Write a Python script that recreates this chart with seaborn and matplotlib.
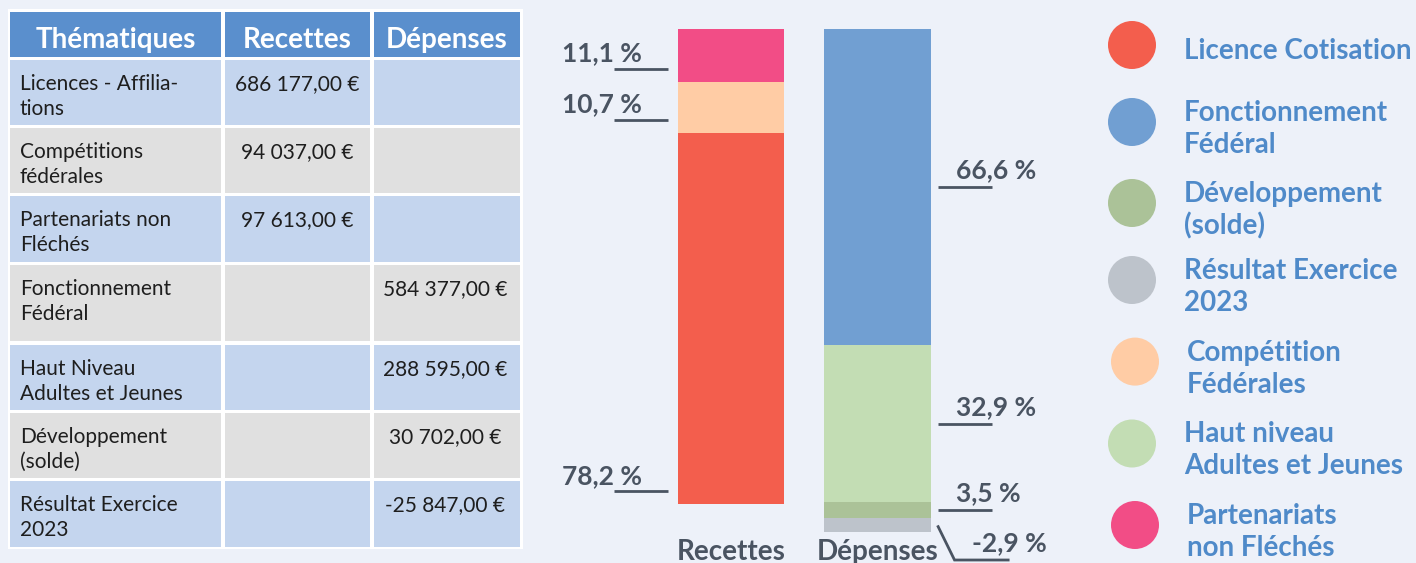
import numpy as np
import pandas as pd
import matplotlib
matplotlib.use("Agg")
import matplotlib.pyplot as plt
from matplotlib.patches import Rectangle, Circle
import seaborn as sns

# ---------------- data ----------------
table_headers = ["Thématiques", "Recettes", "Dépenses"]
themes = ["Licences - Affilia-\ntions", "Compétitions\nfédérales", "Partenariats non\nFléchés",
          "Fonctionnement\nFédéral", "Haut Niveau\nAdultes et Jeunes", "Développement\n(solde)",
          "Résultat Exercice\n2023"]
recettes_amounts = [686177.0, 94037.0, 97613.0, None, None, None, None]
depenses_amounts = [None, None, None, 584377.0, 288595.0, 30702.0, -25847.0]

bar_categories = ["Recettes", "Dépenses"]
# stack layers, listed from top of the bar to bottom
rec_layers = ["Partenariats non Fléchés", "Compétition Fédérales", "Licence Cotisation"]
rec_values = [97613.0, 94037.0, 686177.0]
dep_layers = ["Fonctionnement Fédéral", "Haut niveau Adultes et Jeunes", "Développement (solde)",
              "Résultat Exercice 2023"]
dep_values = [584377.0, 288595.0, 30702.0, -25847.0]

legend_names = ["Licence Cotisation", "Fonctionnement Fédéral", "Développement (solde)",
                "Résultat Exercice 2023", "Compétition Fédérales",
                "Haut niveau Adultes et Jeunes", "Partenariats non Fléchés"]
legend_texts = ["Licence Cotisation", "Fonctionnement\nFédéral", "Développement\n(solde)",
                "Résultat Exercice\n2023", "Compétition\nFédérales", "Haut niveau\nAdultes et Jeunes",
                "Partenariats\nnon Fléchés"]

layer_colors = {
    "Licence Cotisation": "#F35E4D",
    "Fonctionnement Fédéral": "#719FD2",
    "Développement (solde)": "#ABC298",
    "Résultat Exercice 2023": "#BDC3CB",
    "Compétition Fédérales": "#FFCCA5",
    "Haut niveau Adultes et Jeunes": "#C3DDB4",
    "Partenariats non Fléchés": "#F24D86",
}

# ---------------- style ----------------
W, H = 1416, 563
BG = "#EDF1F9"
GREY_TXT = "#4A5462"
BLUE_TXT = "#4F8AC9"
HEAD_BG = "#5A8FCD"
ROW_BG = ["#C4D5EE", "#E0E0E0"]

sns.set_theme(style="white")
plt.rcParams["font.family"] = ["Lato", "DejaVu Sans"]

fig = plt.figure(figsize=(W / 100, H / 100), dpi=100, facecolor=BG)

# overlay axes in pixel coordinates (y downward)
ov = fig.add_axes([0, 0, 1, 1])
ov.set_xlim(0, W)
ov.set_ylim(H, 0)
ov.axis("off")
ov.set_zorder(0)

# ---------------- table ----------------
ov.add_patch(Rectangle((8, 9), 515, 540, facecolor="white", edgecolor="none"))
col_edges = [(10, 221), (225, 370), (374, 520)]
head_rows = (12, 57)
row_edges = [(60, 125), (128, 193), (196, 262), (265, 341), (345, 410), (413, 478), (481, 547)]

for (x0, x1), head in zip(col_edges, table_headers):
    ov.add_patch(Rectangle((x0, head_rows[0]), x1 - x0, head_rows[1] - head_rows[0],
                           facecolor=HEAD_BG, edgecolor="none"))
    ov.text((x0 + x1) / 2, 48, head, ha="center", va="baseline", color="white",
            fontsize=20, fontweight="bold")


def fmt_eur(v):
    return f"{v:,.2f}".replace(",", " ").replace(".", ",") + " €"


BODY_FS = 15
for i, ((y0, y1), name, rv, dv) in enumerate(zip(row_edges, themes, recettes_amounts, depenses_amounts)):
    for (x0, x1) in col_edges:
        ov.add_patch(Rectangle((x0, y0), x1 - x0, y1 - y0, facecolor=ROW_BG[i % 2], edgecolor="none"))
    for k, line in enumerate(name.split("\n")):
        ov.text(20, y0 + 30 + 25 * k, line, ha="left", va="baseline", color="#1E1E1E", fontsize=BODY_FS)
    if rv is not None:
        ov.text(sum(col_edges[1]) / 2, y0 + 30, fmt_eur(rv), ha="center", va="baseline",
                color="#1E1E1E", fontsize=BODY_FS)
    if dv is not None:
        ov.text(sum(col_edges[2]) / 2 - 2, y0 + 30, fmt_eur(dv), ha="center", va="baseline",
                color="#1E1E1E", fontsize=BODY_FS)

# ---------------- stacked bars ----------------
rows = []
for cat, layers, vals in [("Recettes", rec_layers, rec_values), ("Dépenses", dep_layers, dep_values)]:
    total = sum(vals)
    top = 100.0
    for lay, v in zip(layers, vals):
        pct = v / total * 100
        h = abs(pct)
        rows.append(dict(bar=cat, layer=lay, pct=pct, height=h, bottom=top - h))
        top -= h
df = pd.DataFrame(rows)

ax_top_px, ax_bot_px = 0, 536
ax_left_px, ax_right_px = 560, 1080
ax = fig.add_axes([ax_left_px / W, (H - ax_bot_px) / H, (ax_right_px - ax_left_px) / W,
                   (ax_bot_px - ax_top_px) / H])
ax.set_zorder(1)
ax.patch.set_visible(False)

BW = 0.725
for lay in rec_layers + dep_layers:
    sub = df[df["layer"] == lay]
    sns.barplot(data=sub, x="bar", y="height", order=bar_categories, bottom=sub["bottom"].values,
                color=layer_colors[lay], saturation=1, width=BW, linewidth=0, errorbar=None, ax=ax)

px_per_y = 4.757
ax.set_ylim(100 - (ax_bot_px - 28.7) / px_per_y, 100 + 28.7 / px_per_y)
ax.set_xlim(-(731.2 - ax_left_px) / 146.3, 1 + (ax_right_px - 877.5) / 146.3)
ax.set_xlabel("")
ax.set_ylabel("")
ax.set_yticks([])
ax.tick_params(axis="x", length=0, pad=2, labelsize=20, labelcolor=GREY_TXT)
for lbl in ax.get_xticklabels():
    lbl.set_fontweight("bold")
sns.despine(ax=ax, left=True, bottom=True)


def to_px(x, y):
    dx, dy = ax.transData.transform((x, y))
    return dx, H - dy


def pct_txt(p):
    return f"{p:.1f}".replace(".", ",") + " %"


LW = 2.0
PCT_FS = 19
# Recettes labels (left side)
for _, r in df[df["bar"] == "Recettes"].iterrows():
    xl, yb = to_px(-BW / 2, r["bottom"])
    ly = yb - 13
    ov.plot([xl - 64, xl - 10], [ly, ly], color=GREY_TXT, lw=LW, solid_capstyle="butt")
    ov.text(xl - 36, ly - 7.5, pct_txt(r["pct"]), ha="right", va="baseline", color=GREY_TXT,
            fontsize=PCT_FS, fontweight="bold")

# Dépenses labels (right side)
for _, r in df[df["bar"] == "Dépenses"].iterrows():
    xr, ym = to_px(1 + BW / 2, r["bottom"] + r["height"] / 2)
    if r["pct"] >= 0:
        ov.plot([xr + 7, xr + 61], [ym, ym], color=GREY_TXT, lw=LW, solid_capstyle="butt")
        ov.text(xr + 25, ym - 8.5, pct_txt(r["pct"]), ha="left", va="baseline", color=GREY_TXT,
                fontsize=PCT_FS, fontweight="bold")
    else:
        ye = ym + 34.6
        ov.plot([xr + 7, xr + 24, xr + 79], [ym, ye, ye], color=GREY_TXT, lw=LW,
                solid_capstyle="butt", solid_joinstyle="miter")
        ov.text(xr + 41, ye - 9, pct_txt(r["pct"]), ha="left", va="baseline", color=GREY_TXT,
                fontsize=PCT_FS, fontweight="bold")

# ---------------- legend ----------------
circle_y = [45, 122, 203, 280, 361.6, 443.5, 525]
circle_x = [1132, 1132, 1132, 1132, 1135, 1132, 1135]
text_x = [1184, 1184, 1184, 1184, 1187, 1184, 1187]
for name, txt, cx, cy, tx in zip(legend_names, legend_texts, circle_x, circle_y, text_x):
    ov.add_patch(Circle((cx, cy), 24, facecolor=layer_colors[name], edgecolor="none"))
    lines = txt.split("\n")
    base = cy + 14 if len(lines) == 1 else cy - 1
    for k, line in enumerate(lines):
        ov.text(tx, base + 32 * k, line, ha="left", va="baseline", color=BLUE_TXT,
                fontsize=20, fontweight="bold")

fig.savefig("out.png", dpi=100, facecolor=BG)
